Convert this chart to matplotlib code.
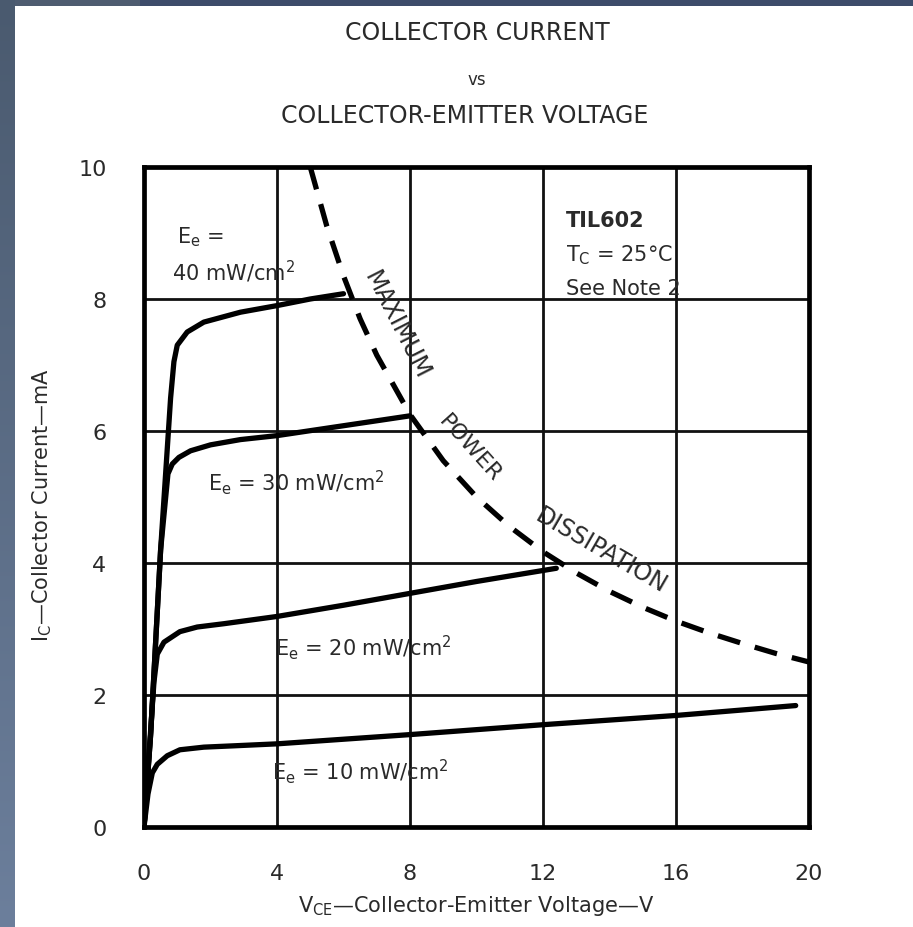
import numpy as np
import matplotlib
matplotlib.use("Agg")
import matplotlib.pyplot as plt
from matplotlib.patches import Rectangle

# ---- data ----
x_ticks = [0, 4, 8, 12, 16, 20]
y_ticks = [0, 2, 4, 6, 8, 10]

v40 = [0, 0.2, 0.5, 0.8, 0.9, 1.0, 1.3, 1.8, 2.9, 4.0, 5.0, 6.0]
i40 = [0, 1.4, 4.2, 6.5, 7.05, 7.3, 7.5, 7.65, 7.8, 7.9, 8.0, 8.08]

v30 = [0, 0.2, 0.5, 0.72, 0.85, 1.05, 1.4, 2.0, 2.9, 4.0, 6.0, 8.0]
i30 = [0, 1.4, 4.2, 5.35, 5.5, 5.6, 5.7, 5.79, 5.87, 5.93, 6.08, 6.23]

v20 = [0, 0.15, 0.3, 0.4, 0.6, 1.08, 1.6, 2.4, 4.0, 6.0, 8.0, 10.0, 12.4]
i20 = [0, 1.1, 2.2, 2.62, 2.8, 2.96, 3.03, 3.08, 3.19, 3.36, 3.54, 3.72, 3.92]

v10 = [0, 0.12, 0.25, 0.4, 0.7, 1.08, 1.8, 2.7, 4.0, 8.0, 12.0, 16.0, 19.6]
i10 = [0, 0.5, 0.82, 0.95, 1.08, 1.17, 1.21, 1.23, 1.26, 1.40, 1.55, 1.69, 1.84]

v_max = [5.0, 5.5, 6.0, 6.5, 7.0, 8.0, 9.0, 10.0, 11.0, 12.0, 13.0, 14.0,
         15.0, 16.0, 17.0, 18.0, 19.0, 20.0]
i_max = [10.0, 9.1, 8.35, 7.7, 7.15, 6.25, 5.55, 5.0, 4.55, 4.17, 3.85, 3.57,
         3.33, 3.12, 2.94, 2.78, 2.63, 2.5]

W, H = 913, 928
TXT = '#2a2a2a'
plt.rcParams['font.family'] = ['DejaVu Sans']
plt.rcParams['mathtext.default'] = 'regular'

fig = plt.figure(figsize=(W / 100, H / 100), dpi=100)
fig.patch.set_facecolor('white')

# bluish frame of the slide
grad = np.linspace(0, 1, H)[:, None]
top_c = np.array([0x4a, 0x5a, 0x6f]) / 255
bot_c = np.array([0x6c, 0x7f, 0x9c]) / 255
img = (top_c[None, None, :] * (1 - grad[..., None]) + bot_c[None, None, :] * grad[..., None])
img = np.repeat(img, 15, axis=1)
fig.figimage(img, xo=0, yo=0, origin='upper', zorder=0)
fig.patches.append(Rectangle((15 / W, 1 - 7 / H), 125 / W, 7 / H, transform=fig.transFigure,
                             facecolor='#4e5c70', edgecolor='none', zorder=0))
fig.patches.append(Rectangle((140 / W, 1 - 7 / H), 1 - 140 / W, 7 / H, transform=fig.transFigure,
                             facecolor='#3d4c6a', edgecolor='none', zorder=0))

ax = fig.add_axes([144 / W, 1 - 828 / H, (809 - 144) / W, (828 - 168) / H])
ax.set_xlim(0, 20)
ax.set_ylim(0, 10)
ax.set_xticks(x_ticks)
ax.set_yticks(y_ticks)
ax.grid(True, color='#111111', lw=2.0)
ax.set_axisbelow(True)
for s in ax.spines.values():
    s.set_linewidth(3.4)
    s.set_color('black')
ax.tick_params(length=0, labelsize=16, labelcolor=TXT)
ax.tick_params(axis='x', pad=26)
ax.tick_params(axis='y', pad=27)

kw = dict(color='black', lw=3.8, solid_capstyle='round', solid_joinstyle='round', zorder=4)
for v, i in [(v40, i40), (v30, i30), (v20, i20), (v10, i10)]:
    ax.plot(v, i, **kw)

ax.plot(v_max, i_max, color='black', lw=3.8, dashes=(4.4, 2.9), zorder=4)

# annotations
fs = 15
ax.text(1.0, 8.95, 'E$_e$ =', fontsize=fs, color=TXT, ha='left', va='center')
ax.text(0.85, 8.42, '40 mW/cm$^2$', fontsize=fs, color=TXT, ha='left', va='center')
ax.text(12.7, 9.2, 'TIL602', fontsize=fs, color=TXT, ha='left', va='center', fontweight='bold')
ax.text(12.7, 8.68, 'T$_C$ = 25°C', fontsize=fs, color=TXT, ha='left', va='center')
ax.text(12.7, 8.16, 'See Note 2', fontsize=fs, color=TXT, ha='left', va='center')
ax.text(1.92, 5.24, 'E$_e$ = 30 mW/cm$^2$', fontsize=fs, color=TXT, ha='left', va='center')
ax.text(3.94, 2.73, 'E$_e$ = 20 mW/cm$^2$', fontsize=fs, color=TXT, ha='left', va='center')
ax.text(3.85, 0.85, 'E$_e$ = 10 mW/cm$^2$', fontsize=fs, color=TXT, ha='left', va='center')

ax.text(7.6, 7.62, 'MAXIMUM', fontsize=17, color=TXT, rotation=-63,
        ha='center', va='center', rotation_mode='anchor')
ax.text(9.8, 5.75, 'POWER', fontsize=16, color=TXT, rotation=-48,
        ha='center', va='center', rotation_mode='anchor')
ax.text(13.75, 4.2, 'DISSIPATION', fontsize=17, color=TXT, rotation=-30,
        ha='center', va='center', rotation_mode='anchor')

# titles
fig.text(477 / W, 1 - 33 / H, 'COLLECTOR CURRENT', fontsize=17, color=TXT, ha='center', va='center')
fig.text(477 / W, 1 - 80 / H, 'vs', fontsize=12, color=TXT, ha='center', va='center')
fig.text(465 / W, 1 - 116 / H, 'COLLECTOR-EMITTER VOLTAGE', fontsize=17, color=TXT, ha='center', va='center')

# axis labels
fig.text(476 / W, 1 - 906 / H, 'V$_{CE}$—Collector-Emitter Voltage—V', fontsize=15,
         color=TXT, ha='center', va='center')
fig.text(42 / W, 1 - 505 / H, 'I$_C$—Collector Current—mA', fontsize=15, color=TXT,
         ha='center', va='center', rotation=90)

fig.savefig('out.png', dpi=100)
